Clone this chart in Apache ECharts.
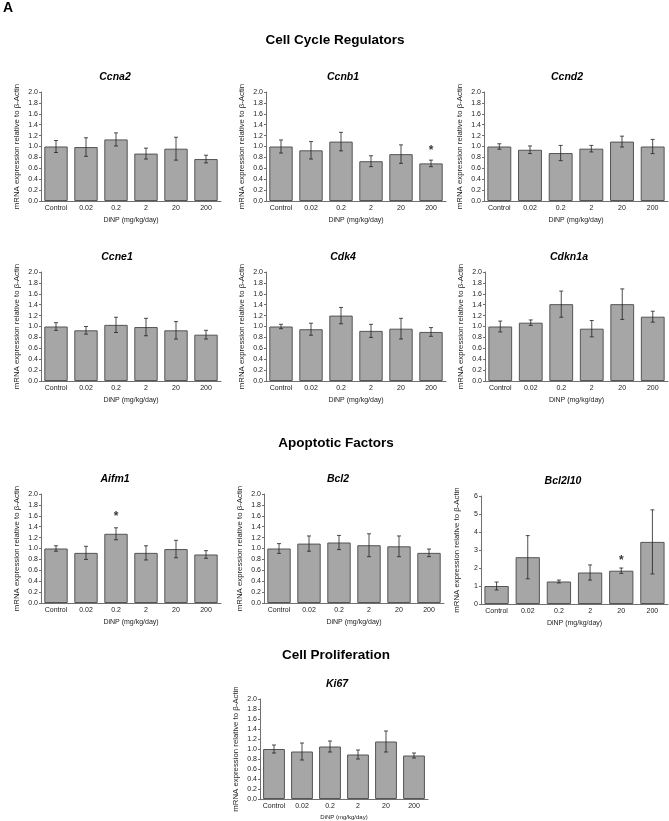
<!DOCTYPE html>
<html>
<head>
<meta charset="utf-8">
<script src="https://cdn.jsdelivr.net/npm/echarts@6/dist/echarts.min.js"></script>
<style>
html, body { margin: 0; padding: 0; background: #fff; }
#main { width: 669px; height: 821px; }
</style>
</head>
<body>
<div id="main"></div>
<script>
var doses = ['Control', '0.02', '0.2', '2', '20', '200'];

// mean and error for each gene
var ccna2 = [1.00, 0.99, 1.13, 0.87, 0.96, 0.77];
var ccna2Err = [0.11, 0.17, 0.12, 0.10, 0.21, 0.07];
var ccnb1 = [1.00, 0.93, 1.09, 0.73, 0.86, 0.69];
var ccnb1Err = [0.12, 0.16, 0.17, 0.10, 0.17, 0.06];
var ccnd2 = [1.00, 0.94, 0.88, 0.96, 1.09, 1.00];
var ccnd2Err = [0.05, 0.07, 0.14, 0.06, 0.10, 0.13];
var ccne1 = [1.00, 0.93, 1.03, 0.99, 0.93, 0.85];
var ccne1Err = [0.07, 0.07, 0.14, 0.16, 0.16, 0.08];
var cdk4 = [1.00, 0.95, 1.20, 0.92, 0.96, 0.90];
var cdk4Err = [0.04, 0.11, 0.15, 0.12, 0.19, 0.08];
var cdkn1a = [1.00, 1.07, 1.41, 0.96, 1.41, 1.18];
var cdkn1aErr = [0.10, 0.05, 0.24, 0.15, 0.28, 0.10];
var aifm1 = [1.00, 0.92, 1.27, 0.92, 0.99, 0.89];
var aifm1Err = [0.05, 0.12, 0.11, 0.13, 0.16, 0.07];
var bcl2 = [1.00, 1.09, 1.11, 1.06, 1.04, 0.92];
var bcl2Err = [0.09, 0.14, 0.13, 0.21, 0.19, 0.07];
var bcl2l10 = [1.00, 2.60, 1.25, 1.75, 1.85, 3.45];
var bcl2l10Err = [0.22, 1.20, 0.08, 0.42, 0.15, 1.78];
var ki67 = [1.00, 0.95, 1.05, 0.89, 1.15, 0.87];
var ki67Err = [0.08, 0.17, 0.11, 0.09, 0.21, 0.05];

// significance marks: [dose index, height of mark]
var ccnb1Star = [[5, 0.92]];
var aifm1Star = [[2, 1.58]];
var bcl2l10Star = [[4, 2.4]];

var panels = [
  { gene: 'Ccna2', mean: ccna2, err: ccna2Err, star: [], max: 2, step: 0.2, left: 41, top: 92, width: 180, height: 109, tx: 115 },
  { gene: 'Ccnb1', mean: ccnb1, err: ccnb1Err, star: ccnb1Star, max: 2, step: 0.2, left: 266, top: 92, width: 180, height: 109, tx: 343 },
  { gene: 'Ccnd2', mean: ccnd2, err: ccnd2Err, star: [], max: 2, step: 0.2, left: 484, top: 92, width: 184, height: 109, tx: 567 },
  { gene: 'Ccne1', mean: ccne1, err: ccne1Err, star: [], max: 2, step: 0.2, left: 41, top: 272, width: 180, height: 109, tx: 117 },
  { gene: 'Cdk4', mean: cdk4, err: cdk4Err, star: [], max: 2, step: 0.2, left: 266, top: 272, width: 180, height: 109, tx: 343 },
  { gene: 'Cdkn1a', mean: cdkn1a, err: cdkn1aErr, star: [], max: 2, step: 0.2, left: 485, top: 272, width: 183, height: 109, tx: 569 },
  { gene: 'Aifm1', mean: aifm1, err: aifm1Err, star: aifm1Star, max: 2, step: 0.2, left: 41, top: 494, width: 180, height: 109, tx: 115 },
  { gene: 'Bcl2', mean: bcl2, err: bcl2Err, star: [], max: 2, step: 0.2, left: 264, top: 494, width: 180, height: 109, tx: 338 },
  { gene: 'Bcl2l10', mean: bcl2l10, err: bcl2l10Err, star: bcl2l10Star, max: 6, step: 1, left: 481, top: 496, width: 187, height: 108, tx: 563 },
  { gene: 'Ki67', mean: ki67, err: ki67Err, star: [], max: 2, step: 0.2, left: 260, top: 699, width: 168, height: 100, tx: 337, small: true }
];

var font = 'Liberation Sans, Arial, sans-serif';

function renderErr(params, api) {
  var x = api.value(0);
  var lo = api.coord([x, api.value(1)]);
  var hi = api.coord([x, api.value(2)]);
  var cap = 2;
  var st = { stroke: '#222', lineWidth: 0.8 };
  return {
    type: 'group',
    children: [
      { type: 'line', shape: { x1: lo[0], y1: lo[1], x2: hi[0], y2: hi[1] }, style: st },
      { type: 'line', shape: { x1: lo[0] - cap, y1: lo[1], x2: lo[0] + cap, y2: lo[1] }, style: st },
      { type: 'line', shape: { x1: hi[0] - cap, y1: hi[1], x2: hi[0] + cap, y2: hi[1] }, style: st }
    ]
  };
}

var grid = [], xAxis = [], yAxis = [], series = [];
var graphic = [
  { type: 'text', left: 3, top: 1, style: { text: 'A', font: 'bold 14px ' + font, fill: '#000' } },
  { type: 'text', x: 335, y: 40, style: { text: 'Cell Cycle Regulators', font: 'bold 13.5px ' + font, fill: '#000', textAlign: 'center', textVerticalAlign: 'middle' } },
  { type: 'text', x: 336, y: 443, style: { text: 'Apoptotic Factors', font: 'bold 13.5px ' + font, fill: '#000', textAlign: 'center', textVerticalAlign: 'middle' } },
  { type: 'text', x: 336, y: 655, style: { text: 'Cell Proliferation', font: 'bold 13.5px ' + font, fill: '#000', textAlign: 'center', textVerticalAlign: 'middle' } }
];

panels.forEach(function (p, i) {
  grid.push({ left: p.left, top: p.top, width: p.width, height: p.height });
  xAxis.push({
    type: 'category', gridIndex: i, data: doses,
    name: 'DiNP (mg/kg/day)', nameLocation: 'middle', nameGap: p.small ? 15 : 16,
    nameTextStyle: { fontFamily: font, fontSize: p.small ? 6 : 7, color: '#222' },
    axisLine: { lineStyle: { color: '#707070', width: 1 } },
    axisTick: { show: false },
    axisLabel: { fontFamily: font, fontSize: 7, color: '#222', margin: 4, interval: 0 }
  });
  yAxis.push({
    type: 'value', gridIndex: i, min: 0, max: p.max, interval: p.step,
    name: 'mRNA expression relative to β-Actin', nameLocation: 'middle', nameGap: 20,
    nameTextStyle: { fontFamily: font, fontSize: 7.8, color: '#222' },
    axisLine: { show: true, lineStyle: { color: '#707070', width: 1 } },
    axisTick: { show: true, length: 2, lineStyle: { color: '#707070' } },
    axisLabel: {
      fontFamily: font, fontSize: 7, color: '#222', margin: 3,
      formatter: function (v) { return p.step < 1 ? v.toFixed(1) : String(v); }
    },
    splitLine: { show: false }
  });
  series.push({
    type: 'bar', xAxisIndex: i, yAxisIndex: i, data: p.mean,
    barCategoryGap: '22%',
    itemStyle: { color: '#a6a6a6', borderColor: '#555', borderWidth: 1 },
    silent: true
  });
  series.push({
    type: 'custom', xAxisIndex: i, yAxisIndex: i, renderItem: renderErr, z: 5,
    encode: { x: 0, y: [1, 2] },
    data: p.mean.map(function (m, k) { return [k, m - p.err[k], m + p.err[k]]; }),
    silent: true
  });
  if (p.star.length) {
    series.push({
      type: 'scatter', xAxisIndex: i, yAxisIndex: i, data: p.star, symbolSize: 0, z: 6,
      label: { show: true, position: 'inside', formatter: '*', fontFamily: font, fontSize: 12, fontWeight: 'bold', color: '#000' },
      silent: true
    });
  }
  graphic.push({
    type: 'text', x: p.tx, y: p.top - 15,
    style: { text: p.gene, font: 'italic bold 10.5px ' + font, fill: '#000', textAlign: 'center', textVerticalAlign: 'middle' }
  });
});

var chart = echarts.init(document.getElementById('main'));
chart.setOption({
  animation: false,
  backgroundColor: '#fff',
  grid: grid,
  xAxis: xAxis,
  yAxis: yAxis,
  series: series,
  graphic: graphic
});
</script>
</body>
</html>
